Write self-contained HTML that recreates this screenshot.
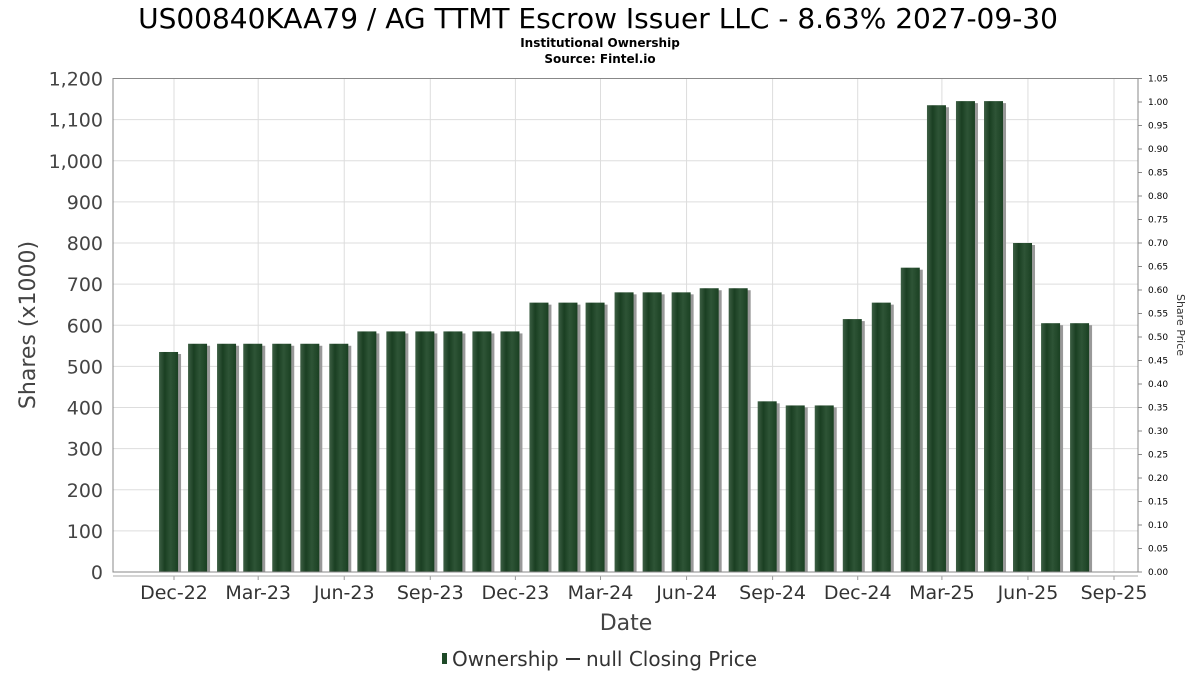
<!DOCTYPE html>
<html><head><meta charset="utf-8"><style>
body{margin:0;background:#fff;}
svg text{font-family:"DejaVu Sans","Liberation Sans",sans-serif;}
</style></head><body>
<svg id="c" width="1200" height="675" xmlns="http://www.w3.org/2000/svg">
<text x="598" y="28" text-anchor="middle" font-size="28" fill="#000">US00840KAA79 / AG TTMT Escrow Issuer LLC - 8.63% 2027-09-30</text>
<text x="600" y="47" text-anchor="middle" font-size="12" font-weight="bold" fill="#000">Institutional Ownership</text>
<text x="600" y="63" text-anchor="middle" font-size="12" font-weight="bold" fill="#000">Source: Fintel.io</text>
<g id="grid"></g><g id="bars"></g><g id="axes"></g>
<text transform="translate(35,325) rotate(-90)" text-anchor="middle" font-size="22" fill="#444">Shares (x1000)</text>
<text x="626" y="630" text-anchor="middle" font-size="22" fill="#444">Date</text>
<text transform="translate(1177,325) rotate(90)" text-anchor="middle" font-size="11" fill="#333">Share Price</text>
<g>
<rect x="442" y="653" width="5" height="11" fill="#1e4a28"></rect>
<text x="452" y="666" font-size="20" fill="#333">Ownership</text>
<line x1="566" y1="659" x2="580" y2="659" stroke="#333" stroke-width="2"></line>
<text x="586" y="666" font-size="20" fill="#333">null Closing Price</text>
</g>
</svg>
<script>
const months = ["2022-11","2022-12","2023-01","2023-02","2023-03","2023-04","2023-05","2023-06","2023-07","2023-08","2023-09","2023-10","2023-11","2023-12","2024-01","2024-02","2024-03","2024-04","2024-05","2024-06","2024-07","2024-08","2024-09","2024-10","2024-11","2024-12","2025-01","2025-02","2025-03","2025-04","2025-05","2025-06","2025-07"];
const shares = [535,555,555,555,555,555,555,585,585,585,585,585,585,655,655,655,680,680,680,690,690,415,405,405,615,655,740,1135,1145,1145,800,605,605];
const xTickLabels = ["Dec-22","Mar-23","Jun-23","Sep-23","Dec-23","Mar-24","Jun-24","Sep-24","Dec-24","Mar-25","Jun-25","Sep-25"];
const xTickDates = ["2022-12-01","2023-03-01","2023-06-01","2023-09-01","2023-12-01","2024-03-01","2024-06-01","2024-09-01","2024-12-01","2025-03-01","2025-06-01","2025-09-01"];
const yTicks = [0,100,200,300,400,500,600,700,800,900,1000,1100,1200];
const priceTicks = [0,0.05,0.1,0.15,0.2,0.25,0.3,0.35,0.4,0.45,0.5,0.55,0.6,0.65,0.7,0.75,0.8,0.85,0.9,0.95,1.0,1.05];

const NS="http://www.w3.org/2000/svg";
const L=113,R=1138,T=78.5,B=572;
const d0=Date.UTC(2022,11,1), d1=Date.UTC(2025,8,1);
function x(ms){return 174+(ms-d0)/(d1-d0)*(1114-174);}
function y(v){return B-v/1200*(B-T);}
function yp(v){return B-v/1.05*(B-T);}
function pd(s){const p=s.split('-');return Date.UTC(+p[0],+p[1]-1,+(p[2]||1));}
function mk(tag,attrs,parent){const e=document.createElementNS(NS,tag);for(const k in attrs)e.setAttribute(k,attrs[k]);document.getElementById(parent).appendChild(e);return e;}

yTicks.forEach(v=>{
  const g=mk('line',{x1:L,x2:R,y1:y(v),y2:y(v),stroke:'#ddd','stroke-width':1},'grid');
  
  
  const t=mk('text',{x:103,y:y(v)+7,'text-anchor':'end','font-size':19,fill:'#444'},'axes');
  t.textContent=v.toLocaleString('en-US');
  
  
});
xTickDates.forEach((d,i)=>{
  const xx=x(pd(d));
  const g=mk('line',{x1:xx,x2:xx,y1:T,y2:B,stroke:'#ddd','stroke-width':1},'grid');
  
  
  const tk=mk('line',{x1:xx,x2:xx,y1:576,y2:580,stroke:'#999'},'axes');
  
  
  const t=mk('text',{x:xx,y:599,'text-anchor':'middle','font-size':19,fill:'#333'},'axes');
  t.textContent=xTickLabels[i];
  
  
});
priceTicks.forEach(v=>{
  const t=mk('text',{x:1148,y:yp(v)+3,'font-size':9,fill:'#000'},'axes');
  t.textContent=v.toFixed(2);
  
  
  const tk=mk('line',{x1:R,x2:R+4,y1:yp(v),y2:yp(v),stroke:'#888'},'axes');
  
  
});
const bd=mk('rect',{x:L,y:T,width:R-L,height:B-T,fill:'none',stroke:'#888','stroke-width':1},'axes');


const xa=mk('line',{x1:L,x2:R,y1:576,y2:576,stroke:'#aaa'},'axes');



const defs=mk('defs',{},'bars');
defs.innerHTML='<linearGradient id="bg" x1="0" x2="1" y1="0" y2="0"><stop offset="0" stop-color="#3d5f44"/><stop offset="0.3" stop-color="#1a3f22"/><stop offset="0.6" stop-color="#2e5436"/><stop offset="1" stop-color="#1a4022"/></linearGradient>';
months.forEach((m,i)=>{
  const p=m.split('-');
  const end=Date.UTC(+p[0],+p[1],0);
  const cx=x(end)-4.5;
  const top=y(shares[i]);
  const s=mk('rect',{x:cx-9.5+3,y:top+2,width:19,height:B-top-2,fill:'#999'},'bars');
  
  
  const b=mk('rect',{x:cx-9.5,y:top,width:19,height:B-top,fill:'url(#bg)'},'bars');
  
  
});
</script>
</body></html>
